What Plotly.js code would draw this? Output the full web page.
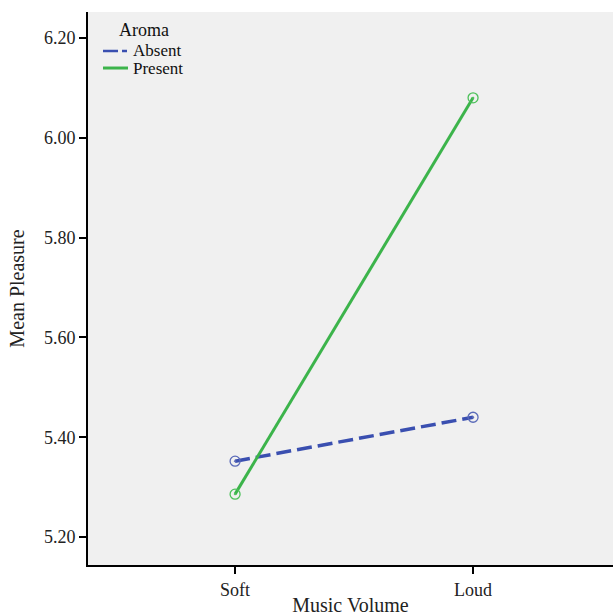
<!DOCTYPE html>
<html><head><meta charset="utf-8">
<script src="https://cdn.plot.ly/plotly-3.0.1.min.js"></script>
<style>html,body{margin:0;padding:0;background:#fff}</style>
</head><body>
<div id="chart" style="width:613px;height:616px"></div>
<script>
const categories = ["Soft", "Loud"];
const seriesNames = ["Absent", "Present"];
const absentValues = [5.352, 5.44];
const presentValues = [5.286, 6.08];
const yTickVals = [5.2, 5.4, 5.6, 5.8, 6.0, 6.2];
const yTickText = ["5.20", "5.40", "5.60", "5.80", "6.00", "6.20"];

const font = "Liberation Serif, Times New Roman, serif";
const blue = "#3a4fb0", green = "#3cb44b";
const traces = [
  {x: categories, y: absentValues, name: seriesNames[0], type: "scatter", mode: "lines+markers",
   line: {color: blue, width: 3.5, dash: "15px,6px"},
   marker: {symbol: "circle-open-dot", size: 10, color: "#5a6ab8", line: {width: 1.3}}},
  {x: categories, y: presentValues, name: seriesNames[1], type: "scatter", mode: "lines+markers",
   line: {color: green, width: 3},
   marker: {symbol: "circle-open-dot", size: 10, color: "#4cc05a", line: {width: 1.3}}}
];
const txt = (t, x, y, s) => ({text: t, xref: "paper", yref: "paper", x: x, y: y,
  xanchor: "left", yanchor: "middle", showarrow: false, borderpad: 0,
  font: {size: s, color: "#111"}});
const layout = {
  width: 613, height: 616,
  margin: {l: 88, r: 0, t: 12, b: 51},
  paper_bgcolor: "#ffffff", plot_bgcolor: "#f0f0f0",
  font: {family: font, size: 18, color: "#222"},
  showlegend: false,
  annotations: [
    txt("Aroma", 0.058, 0.9675, 18),
    txt(seriesNames[0], 0.083, 0.9305, 17),
    txt(seriesNames[1], 0.083, 0.898, 17)
  ],
  shapes: [
    {type: "line", xref: "paper", yref: "paper", x0: 0.0286, x1: 0.0743, y0: 0.9295, y1: 0.9295,
     line: {color: blue, width: 2.5, dash: "15px,4px"}},
    {type: "line", xref: "paper", yref: "paper", x0: 0.0286, x1: 0.0762, y0: 0.8987, y1: 0.8987,
     line: {color: green, width: 3}}
  ],
  xaxis: {type: "category", range: [-0.618, 1.588], showgrid: false, zeroline: false,
          showline: true, linecolor: "#000", linewidth: 2, ticks: "outside", ticklen: 7,
          tickwidth: 2, tickcolor: "#000", tickfont: {size: 18},
          title: {text: "Music Volume", font: {size: 20}, standoff: 4}},
  yaxis: {range: [5.144, 6.252], showgrid: false, zeroline: false, tickvals: yTickVals,
          ticktext: yTickText, showline: true, linecolor: "#000", linewidth: 2,
          ticks: "outside", ticklen: 7, tickwidth: 2, tickcolor: "#000", tickfont: {size: 18},
          title: {text: "Mean Pleasure", font: {size: 20}, standoff: 14}}
};
Plotly.newPlot("chart", traces, layout, {displayModeBar: false, staticPlot: true});
</script>
</body></html>
